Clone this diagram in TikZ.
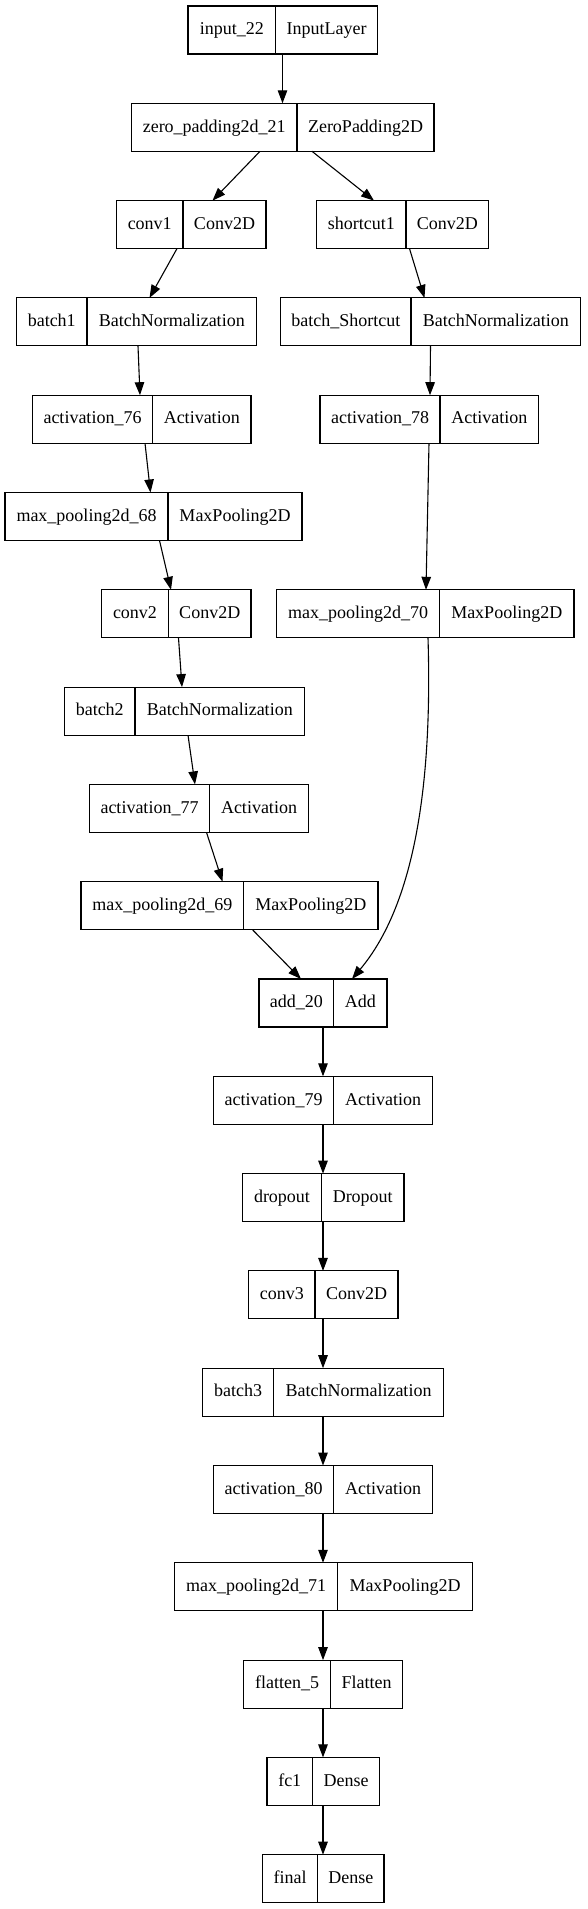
\documentclass[tikz,border=0pt]{standalone}
\usepackage{fontspec}
\setmainfont{Liberation Serif}
\usetikzlibrary{arrows.meta}

% one layer = two cells: name | type
\newcommand{\layer}[7]{%
  \node[cell,minimum width={#3-#2}] (#1) at (#2,#5) {#6};
  \node[cell,minimum width={#4-#3}] (#1t) at (#3,#5) {#7};}

\begin{document}
\begin{tikzpicture}[x=1pt,y=-1pt,
    cell/.style={draw,line width=1.1pt,anchor=north west,inner sep=0pt,outer sep=0pt,
      minimum height=48pt,text height=13.5pt,text depth=4.1pt,
      font=\fontsize{18}{22}\selectfont},
    arr/.style={-{Triangle[length=13pt,width=9.5pt]},line width=1.1pt}]
  \useasboundingbox (0,0) rectangle (587,1909);

  \layer{input}{188}{275.5}{377.5}{6}{input\_22}{InputLayer}
  \layer{zpad}{131.5}{297}{434}{103.3}{zero\_padding2d\_21}{ZeroPadding2D}
  \layer{conv1}{116.5}{183}{266}{200.6}{conv1}{Conv2D}
  \layer{short}{316.5}{406}{488.5}{200.6}{shortcut1}{Conv2D}
  \layer{bn1}{16.5}{87}{256.5}{297.9}{batch1}{BatchNormalization}
  \layer{bnsc}{280.5}{411}{580.5}{297.9}{batch\_Shortcut}{BatchNormalization}
  \layer{act76}{32.5}{152.5}{251}{395.2}{activation\_76}{Activation}
  \layer{act78}{320}{440}{538.5}{395.2}{activation\_78}{Activation}
  \layer{pool68}{5}{168}{302}{492.5}{max\_pooling2d\_68}{MaxPooling2D}
  \layer{conv2}{101.5}{168.5}{251}{589.8}{conv2}{Conv2D}
  \layer{pool70}{276.5}{439.5}{574}{589.8}{max\_pooling2d\_70}{MaxPooling2D}
  \layer{bn2}{64.5}{135}{304.5}{687.1}{batch2}{BatchNormalization}
  \layer{act77}{89.5}{209.5}{308.5}{784.4}{activation\_77}{Activation}
  \layer{pool69}{81}{243.5}{378}{881.7}{max\_pooling2d\_69}{MaxPooling2D}
  \layer{add}{259}{333.5}{387}{979}{add\_20}{Add}
  \layer{act79}{213.5}{333.5}{432.5}{1076.3}{activation\_79}{Activation}
  \layer{drop}{242.5}{321.5}{404}{1173.6}{dropout}{Dropout}
  \layer{conv3}{248.5}{315}{398}{1270.9}{conv3}{Conv2D}
  \layer{bn3}{202.5}{273.5}{443.5}{1368.2}{batch3}{BatchNormalization}
  \layer{act80}{213.5}{333.5}{432.5}{1465.5}{activation\_80}{Activation}
  \layer{pool71}{174.5}{337.5}{472.5}{1562.8}{max\_pooling2d\_71}{MaxPooling2D}
  \layer{flat}{243.5}{330.5}{402.5}{1660.1}{flatten\_5}{Flatten}
  \layer{fc1}{267}{312.5}{379.5}{1757.4}{fc1}{Dense}
  \layer{final}{262.5}{317.5}{384}{1854.7}{final}{Dense}

  % branches
  \draw[arr] ([xshift=94.5]input.south west) -- ([xshift=151]zpad.north west);
  \draw[arr] ([xshift=128.5]zpad.south west) -- ([xshift=96]conv1.north west);
  \draw[arr] ([xshift=180.5]zpad.south west) -- ([xshift=57.5]short.north west);
  \draw[arr] ([xshift=60.5]conv1.south west) -- ([xshift=133]bn1.north west);
  \draw[arr] ([xshift=93]short.south west) -- ([xshift=144]bnsc.north west);
  \draw[arr] ([xshift=121.5]bn1.south west) -- ([xshift=107.5]act76.north west);
  \draw[arr] ([xshift=150]bnsc.south west) -- ([xshift=110]act78.north west);
  \draw[arr] ([xshift=112.5]act76.south west) -- ([xshift=145.5]pool68.north west);
  \draw[arr] ([xshift=109]act78.south west) -- ([xshift=149.5]pool70.north west);
  \draw[arr] ([xshift=154.5]pool68.south west) -- ([xshift=69.5]conv2.north west);
  \draw[arr] ([xshift=77]conv2.south west) -- ([xshift=117.5]bn2.north west);
  \draw[arr] ([xshift=123.5]bn2.south west) -- ([xshift=105.5]act77.north west);
  \draw[arr] ([xshift=117]act77.south west) -- ([xshift=141.5]pool69.north west);
  \draw[arr] ([xshift=171.5]pool69.south west) -- ([xshift=42]add.north west);
  \draw[arr] ([xshift=151.5]pool70.south west)
    .. controls +(5,162) and +(58,-69) .. ([xshift=93]add.north west);

  % main chain
  \draw[arr] ([xshift=64]add.south west) -- ([xshift=109.5]act79.north west);
  \draw[arr] ([xshift=109.5]act79.south west) -- ([xshift=80.5]drop.north west);
  \draw[arr] ([xshift=80.5]drop.south west) -- ([xshift=74.5]conv3.north west);
  \draw[arr] ([xshift=74.5]conv3.south west) -- ([xshift=120.5]bn3.north west);
  \draw[arr] ([xshift=120.5]bn3.south west) -- ([xshift=109.5]act80.north west);
  \draw[arr] ([xshift=109.5]act80.south west) -- ([xshift=148.5]pool71.north west);
  \draw[arr] ([xshift=148.5]pool71.south west) -- ([xshift=79.5]flat.north west);
  \draw[arr] ([xshift=79.5]flat.south west) -- ([xshift=56]fc1.north west);
  \draw[arr] ([xshift=56]fc1.south west) -- ([xshift=60.5]final.north west);
\end{tikzpicture}
\end{document}
